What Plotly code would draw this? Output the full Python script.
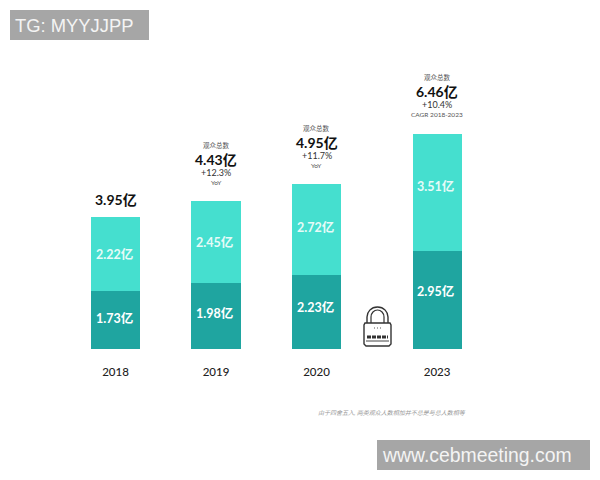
import plotly.graph_objects as go

years = ["2018", "2019", "2020", "2023"]
positions = [0, 1, 2, 3.2]
lower = [1.73, 1.98, 2.23, 2.95]
upper = [2.22, 2.45, 2.72, 3.51]
totals = [3.95, 4.43, 4.95, 6.46]
total_labels = ["3.95亿", "4.43亿", "4.95亿", "6.46亿"]
lower_labels = ["1.73亿", "1.98亿", "2.23亿", "2.95亿"]
upper_labels = ["2.22亿", "2.45亿", "2.72亿", "3.51亿"]
header_labels = ["", "观众总数", "观众总数", "观众总数"]
growth_labels = ["", "+12.3%", "+11.7%", "+10.4%"]
basis_labels = ["", "YoY", "YoY", "CAGR 2018-2023"]
footnote = "由于四舍五入, 两类观众人数相加并不总是与总人数相等"
watermark_top = "TG: MYYJJPP"
watermark_bottom = "www.cebmeeting.com"

FONT = "Lato, 'Noto Sans CJK SC', sans-serif"
PAGE_OFFSET = 8
W, H = 584, 464
BASE = 349 - PAGE_OFFSET
LOWER_SHIFT = [2, 3, 4, 8]
UPPER_SHIFT = [0, 0, 2, 6]


def xp(p):
    return (p - PAGE_OFFSET) / W


def yp(p):
    return (BASE - (p - PAGE_OFFSET)) / BASE


fig = go.Figure()
fig.add_bar(x=positions, y=lower, marker_color="#1FA5A0", width=0.488, marker_line_width=0)
fig.add_bar(x=positions, y=upper, marker_color="#45DFCF", width=0.488, marker_line_width=0)

ann = []


def label(x, y, text, shift, size, color="#222222", weight=400, xshift=0):
    ann.append(dict(x=x, y=y, xref="x", yref="y", text=text, showarrow=False,
                    yshift=shift, xshift=xshift, xanchor="center", yanchor="middle",
                    font=dict(size=size, color=color, family=FONT, weight=weight)))


for i, x in enumerate(positions):
    y = totals[i]
    label(x, lower[i] / 2, lower_labels[i], LOWER_SHIFT[i], 12.5, "white", 700, -1.5)
    label(x, lower[i] + upper[i] / 2, upper_labels[i], UPPER_SHIFT[i], 12.5, "#E6FBF8", 700, -1.5)
    if i == 0:
        label(x, y, total_labels[i], 18, 14, "#111111", 700)
    else:
        label(x, y, header_labels[i], 56, 6.5, "#555555")
        label(x, y, total_labels[i], 42, 14, "#111111", 700)
        label(x, y, growth_labels[i], 29, 9, "#333333")
        label(x, y, basis_labels[i], 19, 6.5, "#555555")


def paper_text(px, py, text, size, color, anchor="left", family=FONT, italic=False):
    if italic:
        text = f"<i>{text}</i>"
    ann.append(dict(x=xp(px), y=yp(py), xref="paper", yref="paper", text=text,
                    showarrow=False, xanchor=anchor, yanchor="middle",
                    xshift=-1 if anchor == "left" else 0,
                    font=dict(size=size, color=color, family=family)))


paper_text(392, 412, footnote, 6, "#9a9a9a", "center", italic=True)
paper_text(14, 26, watermark_top, 18.4, "#F4F4F4", family="Liberation Sans")
paper_text(381, 455, watermark_bottom, 19.4, "#F4F4F4", family="Liberation Sans")

shapes = []


def rect(x0, y0, x1, y1, **kw):
    shapes.append(dict(type="rect", xref="paper", yref="paper", x0=xp(x0), x1=xp(x1),
                       y0=yp(y1), y1=yp(y0), **kw))


rect(10, 10, 149, 40, fillcolor="#A6A6A6", line_width=0)
rect(377, 440, 590, 470, fillcolor="#A6A6A6", line_width=0)


def path(points, **kw):
    d = " ".join(f"{c} {xp(a):.5f} {yp(b):.5f}" for c, a, b in points)
    shapes.append(dict(type="path", xref="paper", yref="paper", path=d, **kw))


LOCK = dict(color="#333333", width=1.4)
shackle = [("M", 367, 323), ("L", 367, 317), ("C", 367, 312), ("", 371, 307), ("", 377.5, 307),
           ("C", 384, 307), ("", 388, 312), ("", 388, 317), ("L", 388, 323)]
path(shackle, line=LOCK)
shackle_in = [("M", 371, 323), ("L", 371, 317), ("C", 371, 313), ("", 374, 310), ("", 377.5, 310),
              ("C", 381, 310), ("", 384, 313), ("", 384, 317), ("L", 384, 323)]
path(shackle_in, line=dict(color="#333333", width=1.2))
path([("M", 365, 323), ("L", 390, 323), ("L", 391, 325), ("L", 391, 344), ("L", 389, 346),
      ("L", 366, 346), ("L", 364, 344), ("L", 364, 325), ("Z", 365, 323)], line=LOCK,
     fillcolor="white")
path([("M", 367, 337), ("L", 388, 337)], line=dict(color="#333333", width=3, dash="4px,1px"))
path([("M", 366, 341), ("L", 389, 341)], line=dict(color="#444444", width=1))
path([("M", 374, 328), ("L", 381, 328)], line=dict(color="#555555", width=1, dash="1px,2px"))

fig.update_layout(
    barmode="stack", width=W, height=H, autosize=False,
    margin=dict(l=0, r=0, t=0, b=H - BASE),
    paper_bgcolor="white", plot_bgcolor="white", showlegend=False,
    annotations=ann, shapes=shapes, font=dict(family=FONT),
)
fig.update_xaxes(range=[(PAGE_OFFSET - 115.5) / 100.5, (PAGE_OFFSET + W - 115.5) / 100.5],
                 tickmode="array",
                 tickvals=positions, ticktext=years, showgrid=False, zeroline=False,
                 showline=False, ticks="outside", ticklen=12, tickcolor="rgba(0,0,0,0)",
                 tickfont=dict(size=11.5, color="#222222", family=FONT, weight=500))
fig.update_yaxes(range=[0, BASE / 33.3], visible=False)
fig.write_html("out.html")
